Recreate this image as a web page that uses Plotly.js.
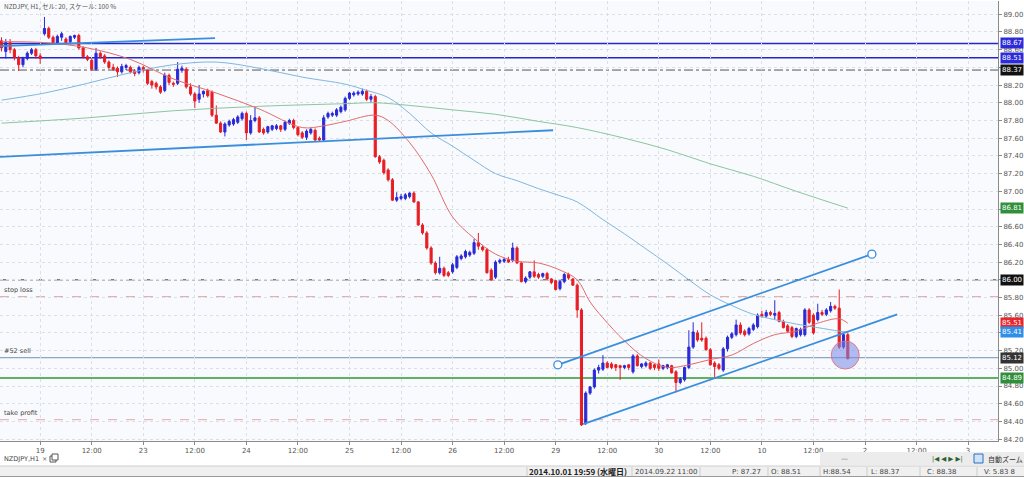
<!DOCTYPE html>
<html><head><meta charset="utf-8">
<script src="https://cdn.plot.ly/plotly-3.0.1.min.js"></script>
<style>html,body{margin:0;padding:0;background:#fff;}#chart{width:1024px;height:477px;}</style>
</head><body><div id="chart"></div>
<script>
// ---- data (hourly bars, NZDJPY H1) ----
const open = [88.70,88.58,88.68,88.60,88.51,88.43,88.50,88.56,88.60,88.53,88.78,88.84,88.74,88.68,88.74,88.72,88.69,88.74,88.76,88.62,88.52,88.48,88.38,88.56,88.53,88.46,88.40,88.39,88.35,88.40,88.40,88.36,88.34,88.40,88.37,88.24,88.22,88.18,88.14,88.31,88.22,88.22,88.37,88.38,88.18,88.10,88.04,88.10,88.14,88.12,87.86,87.77,87.67,87.75,87.76,87.78,87.82,87.88,87.66,87.80,87.83,87.70,87.67,87.70,87.71,87.74,87.70,87.77,87.80,87.72,87.66,87.61,87.66,87.69,87.60,87.58,87.84,87.86,87.86,87.90,87.92,88.05,88.09,88.10,88.10,88.13,88.04,88.07,87.39,87.35,87.24,87.13,86.90,86.92,86.92,86.94,86.98,86.88,86.62,86.53,86.36,86.19,86.08,86.13,86.08,86.09,86.14,86.24,86.26,86.28,86.30,86.42,86.37,86.34,86.11,86.03,86.20,86.21,86.23,86.22,86.36,86.19,85.98,86.03,86.09,86.06,86.04,86.07,86.01,85.99,85.90,85.98,86.06,86.01,85.94,85.66,84.38,84.72,84.79,84.98,84.99,85.06,85.05,85.04,85.03,85.01,85.04,84.96,85.14,85.02,85.03,85.06,85.04,85.05,85.00,85.01,85.03,84.96,84.84,84.87,85.01,85.24,85.40,85.34,85.34,85.21,85.06,85.04,84.98,85.22,85.35,85.38,85.49,85.42,85.39,85.44,85.47,85.61,85.59,85.63,85.60,85.63,85.53,85.48,85.46,85.36,85.38,85.38,85.66,85.60,85.55,85.63,85.61,85.65,85.70,85.68,85.24,85.38];
const high = [88.74,88.72,88.72,88.62,88.53,88.52,88.58,88.62,88.62,88.56,88.97,88.86,88.76,88.77,88.80,88.74,88.76,88.77,88.78,88.64,88.54,88.50,88.62,88.58,88.55,88.48,88.44,88.41,88.44,88.44,88.42,88.38,88.42,88.42,88.38,88.26,88.24,88.20,88.34,88.33,88.24,88.46,88.42,88.40,88.22,88.12,88.20,88.14,88.16,88.14,87.97,87.79,87.78,87.81,87.83,87.86,87.90,87.90,87.86,87.95,87.85,87.72,87.74,87.75,87.76,87.75,87.80,87.82,87.82,87.73,87.68,87.70,87.72,87.71,87.62,87.86,87.90,87.90,87.94,87.97,88.07,88.12,88.13,88.14,88.16,88.15,88.10,88.09,87.41,87.37,87.26,87.15,86.99,86.97,86.98,86.99,87.00,86.89,86.64,86.55,86.38,86.21,86.26,86.15,86.10,86.19,86.28,86.29,86.34,86.33,86.46,86.53,86.39,86.36,86.13,86.22,86.24,86.25,86.26,86.42,86.38,86.20,86.04,86.10,86.22,86.08,86.08,86.09,86.02,86.00,86.00,86.08,86.08,86.02,85.96,85.68,84.74,84.80,85.00,85.04,85.15,85.08,85.07,85.05,85.04,85.04,85.05,85.16,85.16,85.06,85.08,85.07,85.05,85.10,85.04,85.05,85.04,84.98,84.90,85.02,85.43,85.52,85.43,85.52,85.36,85.23,85.08,85.06,85.24,85.37,85.41,85.55,85.52,85.44,85.47,85.51,85.62,85.65,85.66,85.65,85.77,85.65,85.55,85.50,85.48,85.46,85.46,85.68,85.68,85.62,85.73,85.66,85.68,85.75,85.72,85.89,85.40,85.40];
const low = [88.58,88.50,88.56,88.48,88.36,88.40,88.48,88.54,88.50,88.44,88.76,88.72,88.66,88.66,88.70,88.66,88.66,88.72,88.60,88.50,88.47,88.36,88.36,88.50,88.44,88.38,88.36,88.29,88.33,88.37,88.33,88.30,88.32,88.34,88.20,88.16,88.15,88.10,88.12,88.20,88.18,88.20,88.34,88.16,88.08,87.94,88.00,88.06,88.06,87.84,87.76,87.66,87.62,87.73,87.74,87.76,87.80,87.58,87.64,87.78,87.66,87.64,87.65,87.68,87.69,87.67,87.68,87.75,87.70,87.62,87.59,87.58,87.64,87.56,87.56,87.56,87.82,87.84,87.84,87.88,87.90,88.03,88.07,88.08,88.08,88.02,88.00,87.38,87.31,87.19,87.11,86.89,86.88,86.90,86.90,86.92,86.87,86.61,86.51,86.34,86.17,86.06,86.06,86.03,86.03,86.07,86.12,86.22,86.24,86.26,86.28,86.34,86.32,86.07,85.99,86.01,86.18,86.19,86.19,86.20,86.18,85.97,85.96,86.01,86.02,86.01,86.02,86.00,85.95,85.88,85.88,85.96,86.00,85.93,85.57,84.35,84.36,84.70,84.77,84.94,84.97,85.00,84.99,84.97,84.87,84.99,84.98,84.94,85.02,85.00,85.01,84.98,84.98,84.97,84.98,84.99,84.94,84.73,84.82,84.85,84.99,85.22,85.30,85.30,85.20,85.03,84.90,84.98,84.96,85.19,85.33,85.36,85.38,85.36,85.37,85.42,85.45,85.57,85.57,85.59,85.55,85.52,85.45,85.40,85.34,85.34,85.36,85.36,85.50,85.38,85.53,85.59,85.59,85.63,85.66,85.22,85.22,85.10];
const close = [88.62,88.68,88.60,88.51,88.43,88.50,88.56,88.60,88.53,88.50,88.84,88.74,88.68,88.75,88.78,88.68,88.75,88.76,88.62,88.52,88.49,88.38,88.56,88.52,88.46,88.40,88.38,88.35,88.41,88.42,88.35,88.33,88.40,88.37,88.22,88.20,88.18,88.12,88.31,88.23,88.21,88.38,88.39,88.18,88.10,88.02,88.10,88.13,88.08,87.86,87.77,87.67,87.76,87.79,87.81,87.84,87.88,87.66,87.80,87.83,87.67,87.66,87.73,87.74,87.74,87.70,87.78,87.80,87.72,87.64,87.61,87.68,87.70,87.58,87.58,87.83,87.88,87.88,87.92,87.95,88.05,88.11,88.11,88.12,88.13,88.04,88.07,87.39,87.33,87.21,87.13,86.90,86.93,86.94,86.96,86.98,86.88,86.62,86.53,86.36,86.19,86.08,86.13,86.05,86.05,86.17,86.26,86.27,86.32,86.31,86.42,86.38,86.34,86.08,86.00,86.20,86.22,86.23,86.20,86.36,86.19,85.98,86.02,86.09,86.04,86.03,86.07,86.01,85.97,85.89,85.98,86.06,86.02,85.94,85.66,84.36,84.72,84.79,84.98,85.01,85.06,85.01,85.01,85.01,85.01,85.03,85.01,85.14,85.03,85.05,85.06,85.00,85.01,85.00,85.03,85.04,84.95,84.84,84.88,85.01,85.24,85.41,85.32,85.32,85.21,85.04,85.02,85.00,85.22,85.35,85.39,85.49,85.40,85.38,85.45,85.49,85.60,85.59,85.63,85.61,85.62,85.53,85.46,85.42,85.36,85.45,85.44,85.66,85.52,85.40,85.63,85.61,85.66,85.70,85.68,85.24,85.38,85.11];

// moving averages, sampled at bar indices
const redMaX = [0,10,20,30,40,50,60,70,75,80,87,90,95,100,105,110,115,120,125,130,134,137,140,145,150,155,160,165,170,175,180,185,190,195,197];
const redMaY = [88.69,88.68,88.62,88.49,88.27,88.11,87.93,87.72,87.74,87.79,87.86,87.80,87.55,87.19,86.71,86.47,86.29,86.21,86.19,86.11,86.00,85.75,85.57,85.31,85.11,85.01,85.04,85.10,85.15,85.28,85.38,85.42,85.51,85.56,85.51];
const blueMaX = [0,10,20,30,40,50,60,70,80,85,90,95,100,105,110,115,120,125,130,134,140,145,150,155,160,165,170,175,180,185,190,195,197];
const blueMaY = [88.03,88.11,88.22,88.34,88.43,88.46,88.39,88.29,88.21,88.14,88.06,87.88,87.66,87.51,87.35,87.20,87.12,87.03,86.95,86.88,86.68,86.52,86.35,86.18,86.00,85.83,85.71,85.61,85.55,85.50,85.46,85.42,85.41];
const greenMaX = [0,20,40,60,80,87,95,105,115,125,134,145,155,165,175,185,197];
const greenMaY = [87.77,87.83,87.91,87.96,87.99,88.00,87.97,87.92,87.87,87.79,87.72,87.60,87.47,87.31,87.17,87.00,86.81];

// trend lines (start / end)
const trendX0 = [-0.35, -0.35, 129.5, 135.4];
const trendY0 = [88.64, 87.39, 85.04, 84.37];
const trendX1 = [49.7, 128.4, 202.6, 208.5];
const trendY1 = [88.73, 87.69, 86.29, 85.61];

// horizontal levels
const levelPrices = [88.67, 88.51, 88.37, 86.00, 85.81, 85.12, 84.89, 84.42];
const levelNames  = ['', '', '', '', 'stop loss', '#52 sell', '', 'take profit'];

// price boxes on the right axis
const boxPrices = [88.67, 88.51, 88.37, 86.81, 86.00, 85.51, 85.41, 85.12, 84.89];

// highlight circle
const markX = [196.4];
const markY = [85.15];

// x tick labels
const tickLabels = ['19','12:00','23','12:00','24','12:00','25','12:00','26','12:00','29','12:00','30','12:00','10','12:00','2','12:00','3'];
// y tick labels (those hidden under price boxes are blank)
const yTickVals = [84.2,84.4,84.6,84.8,85.0,85.2,85.4,85.6,85.8,86.0,86.2,86.4,86.6,86.8,87.0,87.2,87.4,87.6,87.8,88.0,88.2,88.4,88.6,88.8,89.0];
const yTickText = ['84.20','84.40','84.60','84.80','85.00','85.20','','85.60','85.80','','86.20','86.40','86.60','','87.00','87.20','87.40','87.60','87.80','88.00','88.20','','88.60','88.80','89.00'];

// ---- layout helpers ----
const PW = 998, PT = 1, PB = 441;
const px = v => v / PW;
const py = v => (PB - v) / (PB - PT);

const bars = close.map((_, i) => i);
const tickvals = tickLabels.map((_, k) => 9 + 12 * k);

const levelStyle = [
  {color:'#2525c8', width:1.5, dash:'solid'},
  {color:'#2525c8', width:1.5, dash:'solid'},
  {color:'#555555', width:1, dash:'dashdot'},
  {color:'#444444', width:1, dash:'dashdot'},
  {color:'#e6a3a3', width:1, dash:'dash'},
  {color:'#7391b3', width:1, dash:'solid'},
  {color:'#2e9a2e', width:1.5, dash:'solid'},
  {color:'#e6a8a8', width:1, dash:'dash'}
];
const boxColors = ['#2b2bd9','#2b2bd9','#111111','#2f8f3a','#111111','#e8262b','#2f8ee8','#333333','#2f8f3a'];

const traces = [];
traces.push({type:'scatter', mode:'lines', x:greenMaX, y:greenMaY, line:{color:'#8cc59e', width:1, shape:'spline'}, hoverinfo:'skip'});
traces.push({type:'scatter', mode:'lines', x:blueMaX, y:blueMaY, line:{color:'#80b6df', width:1, shape:'spline'}, hoverinfo:'skip'});
traces.push({type:'scatter', mode:'lines', x:redMaX, y:redMaY, line:{color:'#e36b6b', width:1, shape:'spline'}, hoverinfo:'skip'});
traces.push({
  type:'candlestick', x:bars, open:open, high:high, low:low, close:close,
  increasing:{line:{color:'#2a2ad6', width:1}, fillcolor:'#2a2ad6'},
  decreasing:{line:{color:'#e61e24', width:1}, fillcolor:'#e61e24'},
  whiskerwidth:0, hoverinfo:'skip'
});
for (let k = 0; k < trendX0.length; k++) {
  traces.push({type:'scatter', mode:'lines', x:[trendX0[k], trendX1[k]], y:[trendY0[k], trendY1[k]],
    line:{color:'#3b8edc', width:1.8}, hoverinfo:'skip'});
}
traces.push({type:'scatter', mode:'markers', x:[trendX0[2], trendX1[2]], y:[trendY0[2], trendY1[2]],
  marker:{size:8, color:'#ffffff', line:{color:'#3b8edc', width:1.3}}, hoverinfo:'skip'});
traces.push({type:'scatter', mode:'markers', x:markX, y:markY,
  marker:{size:28, color:'rgba(120,135,230,0.55)', line:{color:'rgba(225,110,120,0.85)', width:1}}, hoverinfo:'skip'});

const shapes = [];
levelPrices.forEach((p, k) => {
  shapes.push({type:'line', xref:'paper', x0:0, x1:1, yref:'y', y0:p, y1:p, layer:'below',
    line:levelStyle[k]});
});
// bottom tab / toolbar / status bar chrome
shapes.push({type:'rect', xref:'paper', yref:'paper', x0:px(820), x1:px(1024), y0:py(465), y1:py(452), fillcolor:'#ececec', line:{width:0}});
shapes.push({type:'rect', xref:'paper', yref:'paper', x0:px(0), x1:px(1024), y0:py(477), y1:py(466), fillcolor:'#f0f0f0', line:{width:0}});
shapes.push({type:'line', xref:'paper', yref:'paper', x0:px(0), x1:px(1024), y0:py(466), y1:py(466), line:{color:'#cfcfcf', width:1}});
shapes.push({type:'line', xref:'paper', yref:'paper', x0:px(0), x1:px(1024), y0:py(476.5), y1:py(476.5), line:{color:'#9a9a9a', width:1}});
[527, 632, 700, 768, 820, 867, 920, 977].forEach(s => {
  shapes.push({type:'line', xref:'paper', yref:'paper', x0:px(s), x1:px(s), y0:py(467), y1:py(476), line:{color:'#cccccc', width:1}});
});
shapes.push({type:'rect', xref:'paper', yref:'paper', x0:px(50), x1:px(56), y0:py(462), y1:py(456), line:{color:'#555', width:1}, fillcolor:'rgba(0,0,0,0)'});
shapes.push({type:'rect', xref:'paper', yref:'paper', x0:px(52), x1:px(58), y0:py(460), y1:py(454), line:{color:'#555', width:1}, fillcolor:'#ffffff'});
shapes.push({type:'rect', xref:'paper', yref:'paper', x0:px(974), x1:px(983), y0:py(463), y1:py(454), line:{color:'#2a6fc0', width:1}, fillcolor:'#cfe2f7'});

const annotations = [];
boxPrices.forEach((p, k) => {
  annotations.push({xref:'paper', x:1, xanchor:'left', xshift:2, yref:'y', y:p, yanchor:'middle',
    text:p.toFixed(2), showarrow:false, bgcolor:boxColors[k], borderpad:1,
    font:{family:'DejaVu Sans', size:7, color:'#ffffff'}});
});
levelPrices.forEach((p, k) => {
  if (!levelNames[k]) return;
  annotations.push({xref:'paper', x:0.002, xanchor:'left', yref:'y', y:p, yanchor:'bottom', yshift:1,
    text:levelNames[k], showarrow:false, font:{family:'DejaVu Sans', size:6.5, color:'#444'}});
});
const ann = (x, y, text, opt) => Object.assign({xref:'paper', yref:'paper', x:px(x), y:py(y), xanchor:'left', yanchor:'middle',
  text:text, showarrow:false, font:{family:'Noto Sans CJK JP', size:7, color:'#444'}}, opt || {});
annotations.push(ann(2, 6, 'NZDJPY, H1, セル: 20, スケール: 100 %', {font:{family:'Noto Sans CJK JP', size:6.5, color:'#555'}}));
annotations.push(ann(2, 458.5, 'NZDJPY,H1', {font:{family:'DejaVu Sans', size:6.5, color:'#444'}}));
annotations.push(ann(40, 458.5, '×', {font:{family:'DejaVu Sans', size:6.5, color:'#666'}}));
annotations.push(ann(839, 458.5, '—', {font:{family:'DejaVu Sans', size:7, color:'#777'}}));
annotations.push(ann(930, 458.5, '|◀ ◀ ▶ ▶|', {font:{family:'DejaVu Sans', size:6.5, color:'#2f5f2f'}}));
annotations.push(ann(986, 458.5, '自動ズーム', {font:{family:'Noto Sans CJK JP', size:7, color:'#333'}}));
annotations.push(ann(578, 471.5, '<b>2014.10.01 19:59 (水曜日)</b>', {xanchor:'center', font:{family:'Noto Sans CJK JP', size:8, color:'#222'}}));
annotations.push(ann(666, 471.5, '2014.09.22 11:00', {xanchor:'center', font:{family:'DejaVu Sans', size:7, color:'#444'}}));
annotations.push(ann(746, 471.5, 'P: 87.27', {xanchor:'center', font:{family:'DejaVu Sans', size:7, color:'#444'}}));
annotations.push(ann(786, 471.5, 'O: 88.51', {xanchor:'center', font:{family:'DejaVu Sans', size:7, color:'#444'}}));
annotations.push(ann(837, 471.5, 'H:88.54', {xanchor:'center', font:{family:'DejaVu Sans', size:7, color:'#444'}}));
annotations.push(ann(885, 471.5, 'L: 88.37', {xanchor:'center', font:{family:'DejaVu Sans', size:7, color:'#444'}}));
annotations.push(ann(942, 471.5, 'C: 88.38', {xanchor:'center', font:{family:'DejaVu Sans', size:7, color:'#444'}}));
annotations.push(ann(1000, 471.5, 'V: 5.83 8', {xanchor:'center', font:{family:'DejaVu Sans', size:7, color:'#444'}}));

const layout = {
  width:1024, height:477,
  margin:{l:0, r:26, t:PT, b:477 - PB, pad:0},
  paper_bgcolor:'#ffffff', plot_bgcolor:'#f8fafd',
  showlegend:false, hovermode:false,
  xaxis:{type:'linear', range:[-0.35, 231.96], tickmode:'array', tickvals:tickvals, ticktext:tickLabels,
    showgrid:true, gridcolor:'#d9e0e8', griddash:'dot', gridwidth:1, zeroline:false,
    showline:true, linecolor:'#8a8a8a', linewidth:1, ticks:'outside', ticklen:3, tickcolor:'#8a8a8a',
    tickfont:{family:'DejaVu Sans', size:7, color:'#555'}, rangeslider:{visible:false}, fixedrange:true},
  yaxis:{side:'right', range:[84.179, 89.150], tickmode:'array', tickvals:yTickVals, ticktext:yTickText,
    showgrid:true, gridcolor:'#d9e0e8', griddash:'dot', gridwidth:1, zeroline:false,
    showline:true, linecolor:'#8a8a8a', linewidth:1, ticks:'outside', ticklen:3, tickcolor:'#8a8a8a',
    tickfont:{family:'DejaVu Sans', size:7, color:'#555'}, fixedrange:true},
  shapes:shapes, annotations:annotations
};
Plotly.newPlot('chart', traces, layout, {displayModeBar:false, staticPlot:true});
</script></body></html>
